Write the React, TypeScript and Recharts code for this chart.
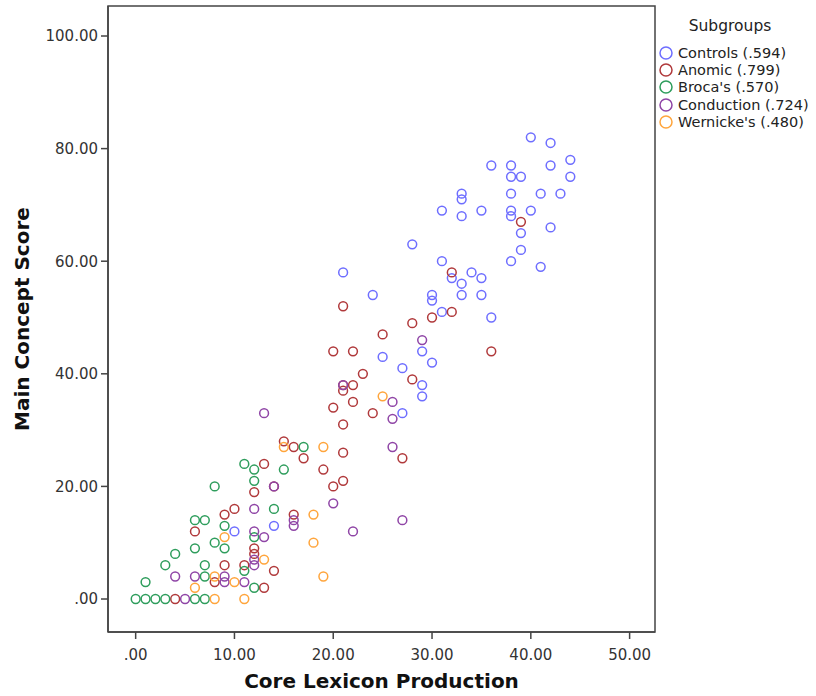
import React from "react";
import {
  ScatterChart,
  Scatter,
  XAxis,
  YAxis,
  ReferenceArea,
  Legend,
} from "recharts";

// values (integer scores)
const controlsX = [21, 24, 25, 27, 27, 28, 29, 29, 29, 30, 30, 30, 31, 31, 31, 32, 33, 33, 33, 33, 33, 34, 35, 35, 35, 36, 36, 38, 38, 38, 38, 38, 38, 39, 39, 39, 40, 40, 41, 41, 42, 42, 42, 43, 44, 44, 10, 14];
const controlsY = [58, 54, 43, 41, 33, 63, 44, 38, 36, 54, 53, 42, 60, 51, 69, 57, 56, 54, 68, 72, 71, 58, 57, 54, 69, 50, 77, 77, 75, 72, 69, 68, 60, 75, 65, 62, 82, 69, 72, 59, 81, 77, 66, 72, 78, 75, 12, 13];

const anomicX = [4, 6, 8, 9, 9, 10, 11, 12, 12, 12, 13, 13, 14, 14, 15, 16, 16, 17, 19, 20, 20, 20, 21, 21, 21, 21, 21, 21, 22, 22, 22, 23, 24, 25, 27, 28, 28, 30, 32, 32, 36, 39];
const anomicY = [0, 12, 3, 15, 6, 16, 6, 19, 9, 8, 24, 2, 20, 5, 28, 27, 15, 25, 23, 44, 34, 20, 52, 38, 37, 31, 26, 21, 44, 38, 35, 40, 33, 47, 25, 49, 39, 50, 58, 51, 44, 67];

const brocaX = [0, 1, 2, 3, 6, 7, 1, 3, 4, 6, 6, 7, 7, 7, 8, 8, 9, 9, 11, 11, 12, 12, 12, 12, 14, 15, 17];
const brocaY = [0, 0, 0, 0, 0, 0, 3, 6, 8, 9, 14, 14, 6, 4, 10, 20, 13, 9, 24, 5, 23, 21, 11, 2, 16, 23, 27];

const conductionX = [5, 4, 6, 9, 9, 11, 12, 12, 12, 12, 13, 13, 14, 16, 16, 20, 21, 22, 26, 26, 26, 27, 29];
const conductionY = [0, 4, 4, 4, 3, 3, 16, 12, 7, 6, 11, 33, 20, 14, 13, 17, 38, 12, 35, 32, 27, 14, 46];

const wernickeX = [8, 11, 6, 8, 10, 9, 13, 15, 18, 18, 19, 19, 25];
const wernickeY = [0, 0, 2, 4, 3, 11, 7, 27, 15, 10, 27, 4, 36];

const xTicks = [0, 10, 20, 30, 40, 50];
const yTicks = [0, 20, 40, 60, 80, 100];

const groups = [
  { name: "Controls (.594)", color: "#6e6eff", xs: controlsX, ys: controlsY },
  { name: "Anomic (.799)", color: "#b0393b", xs: anomicX, ys: anomicY },
  { name: "Broca's (.570)", color: "#2e9d5c", xs: brocaX, ys: brocaY },
  { name: "Conduction (.724)", color: "#8f45a6", xs: conductionX, ys: conductionY },
  { name: "Wernicke's (.480)", color: "#ffa53c", xs: wernickeX, ys: wernickeY },
];

const FONT = "'DejaVu Sans', sans-serif";
const X_DOMAIN: [number, number] = [-2.8, 52.57];
const Y_DOMAIN: [number, number] = [-5.86, 105.33];

const fmt = (v: number) => (v === 0 ? ".00" : v.toFixed(2));

function ringShape(color: string) {
  return (props: { cx?: number; cy?: number }) => (
    <circle
      cx={props.cx}
      cy={props.cy}
      r={4.4}
      fill="none"
      stroke={color}
      strokeWidth={1.5}
    />
  );
}

function SubgroupLegend() {
  return (
    <div style={{ fontFamily: FONT, color: "#222" }}>
      <div style={{ width: 150, textAlign: "center", fontSize: 15.5, lineHeight: "18px", marginBottom: 9.5, marginTop: 1 }}>
        Subgroups
      </div>
      {groups.map((g) => (
        <div key={g.name} style={{ display: "flex", alignItems: "center", height: 17.2, fontSize: 14.5 }}>
          <svg width={14} height={14} style={{ marginLeft: 4, marginRight: 5 }}>
            <circle cx={7} cy={7} r={6} fill="none" stroke={g.color} strokeWidth={1.5} />
          </svg>
          <span style={{ whiteSpace: "nowrap" }}>{g.name}</span>
        </div>
      ))}
    </div>
  );
}

export default function App() {
  return (
    <div style={{ position: "absolute", left: 0, top: 0, width: 816, height: 696, background: "#fff" }}>
      <ScatterChart
        width={816}
        height={696}
        margin={{ top: 6, right: 161, bottom: 0, left: 0 }}
      >
        <XAxis
          type="number"
          dataKey="x"
          domain={X_DOMAIN}
          ticks={xTicks}
          allowDataOverflow
          tickFormatter={fmt}
          height={64}
          tickSize={7}
          tickMargin={10}
          axisLine={{ stroke: "#444", strokeWidth: 1.5 }}
          tickLine={{ stroke: "#444", strokeWidth: 1.5 }}
          tick={{ fill: "#333", fontSize: 15, fontFamily: FONT }}
          label={({ viewBox }: any) => (
            <text
              x={viewBox.x + viewBox.width / 2}
              y={681}
              textAnchor="middle"
              dominantBaseline="central"
              fontFamily={FONT}
              fontWeight="bold"
              fontSize={20}
              fill="#111"
            >
              Core Lexicon Production
            </text>
          )}
        />
        <YAxis
          type="number"
          dataKey="y"
          domain={Y_DOMAIN}
          ticks={yTicks}
          allowDataOverflow
          tickFormatter={fmt}
          width={108}
          tickSize={7}
          tickMargin={3}
          axisLine={{ stroke: "#444", strokeWidth: 1.5 }}
          tickLine={{ stroke: "#444", strokeWidth: 1.5 }}
          tick={{ fill: "#333", fontSize: 15, fontFamily: FONT }}
          label={({ viewBox }: any) => (
            <text
              x={22}
              y={viewBox.y + viewBox.height / 2}
              textAnchor="middle"
              dominantBaseline="central"
              transform={`rotate(-90 22 ${viewBox.y + viewBox.height / 2})`}
              fontFamily={FONT}
              fontWeight="bold"
              fontSize={20}
              fill="#111"
            >
              Main Concept Score
            </text>
          )}
        />
        <ReferenceArea
          x1={X_DOMAIN[0]}
          x2={X_DOMAIN[1]}
          y1={Y_DOMAIN[0]}
          y2={Y_DOMAIN[1]}
          fill="none"
          stroke="#444"
          strokeWidth={1.5}
          ifOverflow="visible"
        />
        {groups.map((g) => (
          <Scatter
            key={g.name}
            name={g.name}
            data={g.xs.map((x, i) => ({ x, y: g.ys[i] }))}
            shape={ringShape(g.color)}
            isAnimationActive={false}
          />
        ))}
        <Legend
          layout="horizontal"
          verticalAlign="middle"
          align="center"
          content={() => <SubgroupLegend />}
          wrapperStyle={{ top: 16, left: 655, width: 161, height: 120 }}
        />
      </ScatterChart>
    </div>
  );
}
